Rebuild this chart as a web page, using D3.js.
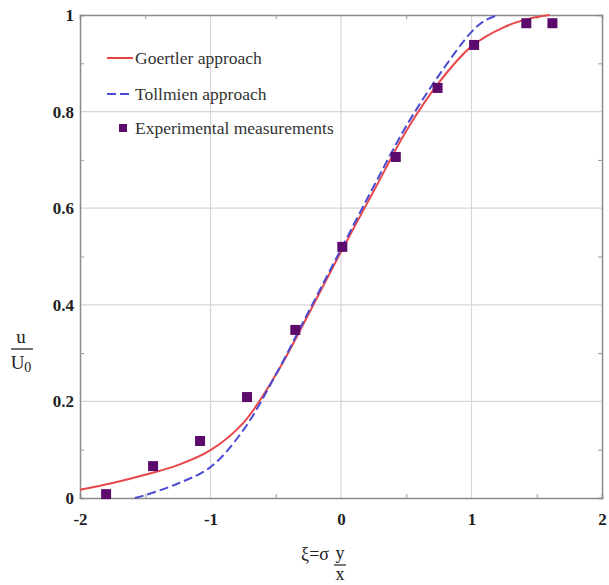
<!DOCTYPE html>
<html>
<head>
<meta charset="utf-8">
<script src="https://cdn.jsdelivr.net/npm/d3@7"></script>
<style>
  body { margin: 0; background: #fff; }
  text { font-family: "Liberation Serif", "DejaVu Serif", serif; }
</style>
</head>
<body>
<div id="canvas"></div>
<script>
// curve readings
var goertlerX = [-2, -1.75, -1.5, -1.25, -1, -0.75, -0.5, -0.25, 0, 0.25, 0.5, 0.75, 1, 1.25, 1.45, 1.6];
var goertlerY = [0.017, 0.031, 0.048, 0.068, 0.099, 0.155, 0.255, 0.38, 0.51, 0.635, 0.76, 0.86, 0.935, 0.975, 0.993, 1.0];
var tollmienX = [-1.58, -1.5, -1.25, -1, -0.75, -0.5, -0.25, 0, 0.25, 0.5, 0.75, 1, 1.1, 1.2];
var tollmienY = [0, 0.006, 0.03, 0.064, 0.14, 0.255, 0.385, 0.515, 0.645, 0.77, 0.875, 0.965, 0.988, 1.0];
var expX = [-1.8, -1.44, -1.08, -0.72, -0.35, 0.01, 0.42, 0.74, 1.02, 1.42, 1.62];
var expY = [0.008, 0.066, 0.118, 0.209, 0.348, 0.52, 0.706, 0.849, 0.938, 0.983, 0.983];
var xTicks = [-2, -1, 0, 1, 2];
var yTicks = [0, 0.2, 0.4, 0.6, 0.8, 1];
var xMinor = [-1.5, -0.5, 0.5, 1.5];
var yMinor = [0.1, 0.3, 0.5, 0.7, 0.9];

var W = 609, H = 585;
var mLeft = 80, mRight = 602, mTop = 15, mBottom = 498;

var svg = d3.select('#canvas').append('svg')
  .attr('width', W)
  .attr('height', H);

var x = d3.scaleLinear().domain([-2, 2]).range([mLeft, mRight]);
var y = d3.scaleLinear().domain([0, 1]).range([mBottom, mTop]);

// grid
svg.append('g').selectAll('line').data(xTicks.slice(1, -1)).enter().append('line')
  .attr('x1', function (d) { return x(d); }).attr('x2', function (d) { return x(d); })
  .attr('y1', mTop).attr('y2', mBottom)
  .attr('stroke', '#d6d6d6').attr('stroke-width', 1.2);
svg.append('g').selectAll('line').data(yTicks.slice(1, -1)).enter().append('line')
  .attr('x1', mLeft).attr('x2', mRight)
  .attr('y1', function (d) { return y(d); }).attr('y2', function (d) { return y(d); })
  .attr('stroke', '#d6d6d6').attr('stroke-width', 1.2);

// frame with inner ticks
var axes = [
  d3.axisBottom(x).tickValues(xMinor).tickSize(-4).tickFormat(''),
  d3.axisTop(x).tickValues(xMinor).tickSize(-4).tickFormat(''),
  d3.axisLeft(y).tickValues(yMinor).tickSize(-4).tickFormat(''),
  d3.axisRight(y).tickValues(yMinor).tickSize(-4).tickFormat('')
];
var pos = ['translate(0,' + mBottom + ')', 'translate(0,' + mTop + ')', 'translate(' + mLeft + ',0)', 'translate(' + mRight + ',0)'];
axes.forEach(function (a, i) {
  var g = svg.append('g').attr('transform', pos[i]).call(a);
  g.select('.domain').attr('stroke', '#8a8a8a').attr('stroke-width', 1.5);
  g.selectAll('.tick line').attr('stroke', '#999');
});

// tick labels
var xl = svg.append('g').attr('transform', 'translate(0,' + mBottom + ')')
  .call(d3.axisBottom(x).tickValues(xTicks).tickSize(0).tickPadding(15).tickFormat(function (d) { return String(d); }));
xl.select('.domain').remove();
xl.selectAll('text').attr('font-size', 17).attr('fill', '#222').attr('font-weight', 'bold')
  .style('font-family', '"Liberation Serif", serif');

var yl = svg.append('g').attr('transform', 'translate(' + mLeft + ',0)')
  .call(d3.axisLeft(y).tickValues(yTicks).tickSize(0).tickPadding(6).tickFormat(function (d) { return d === 0 || d === 1 ? String(d) : d.toFixed(1); }));
yl.select('.domain').remove();
yl.selectAll('text').attr('font-size', 17).attr('fill', '#222').attr('font-weight', 'bold')
  .style('font-family', '"Liberation Serif", serif');

// curves
var line = d3.line()
  .x(function (d) { return x(d[0]); })
  .y(function (d) { return y(d[1]); })
  .curve(d3.curveCatmullRom.alpha(0.5));

svg.append('path').datum(d3.zip(goertlerX, goertlerY))
  .attr('d', line).attr('fill', 'none')
  .attr('stroke', '#e8474a').attr('stroke-width', 2);
svg.append('path').datum(d3.zip(tollmienX, tollmienY))
  .attr('d', line).attr('fill', 'none')
  .attr('stroke', '#4b4bd2').attr('stroke-width', 2)
  .attr('stroke-dasharray', '9,4');

// experimental points
svg.append('g').selectAll('rect').data(d3.zip(expX, expY)).enter().append('rect')
  .attr('x', function (d) { return x(d[0]) - 5; })
  .attr('y', function (d) { return y(d[1]) - 5; })
  .attr('width', 10).attr('height', 10)
  .attr('fill', '#5c0a6c');

// legend
var lg = svg.append('g');
lg.append('line').attr('x1', 107).attr('x2', 133).attr('y1', 58).attr('y2', 58)
  .attr('stroke', '#e8474a').attr('stroke-width', 2);
lg.append('line').attr('x1', 107).attr('x2', 133).attr('y1', 94).attr('y2', 94)
  .attr('stroke', '#4b4bd2').attr('stroke-width', 2).attr('stroke-dasharray', '9,4');
lg.append('rect').attr('x', 119).attr('y', 124).attr('width', 8).attr('height', 8).attr('fill', '#5c0a6c');
var labels = ['Goertler approach', 'Tollmien approach', 'Experimental measurements'];
lg.selectAll('text.lab').data(labels).enter().append('text')
  .attr('x', 135)
  .attr('y', function (d, i) { return [64, 100, 134][i]; })
  .attr('font-size', 17.5).attr('fill', '#333')
  .text(function (d) { return d; });

// y axis label u / U0
var ylab = svg.append('g').attr('font-size', 19).attr('fill', '#222');
ylab.append('text').attr('x', 21).attr('y', 343).attr('text-anchor', 'middle').text('u');
ylab.append('line').attr('x1', 11).attr('x2', 33).attr('y1', 349).attr('y2', 349)
  .attr('stroke', '#222').attr('stroke-width', 1.3);
var u0 = ylab.append('text').attr('x', 21).attr('y', 369).attr('text-anchor', 'middle');
u0.append('tspan').text('U');
u0.append('tspan').attr('font-size', 14).attr('dy', 3).text('0');

// x axis label ξ=σ y/x
var xlab = svg.append('g').attr('font-size', 18).attr('fill', '#222');
xlab.append('text').attr('x', 329).attr('y', 560).attr('text-anchor', 'end').text('ξ=σ');
xlab.append('text').attr('x', 340).attr('y', 559).attr('text-anchor', 'middle').text('y');
xlab.append('line').attr('x1', 334).attr('x2', 346).attr('y1', 565).attr('y2', 565)
  .attr('stroke', '#222').attr('stroke-width', 1.2);
xlab.append('text').attr('x', 340).attr('y', 580).attr('text-anchor', 'middle').text('x');
</script>
</body>
</html>
